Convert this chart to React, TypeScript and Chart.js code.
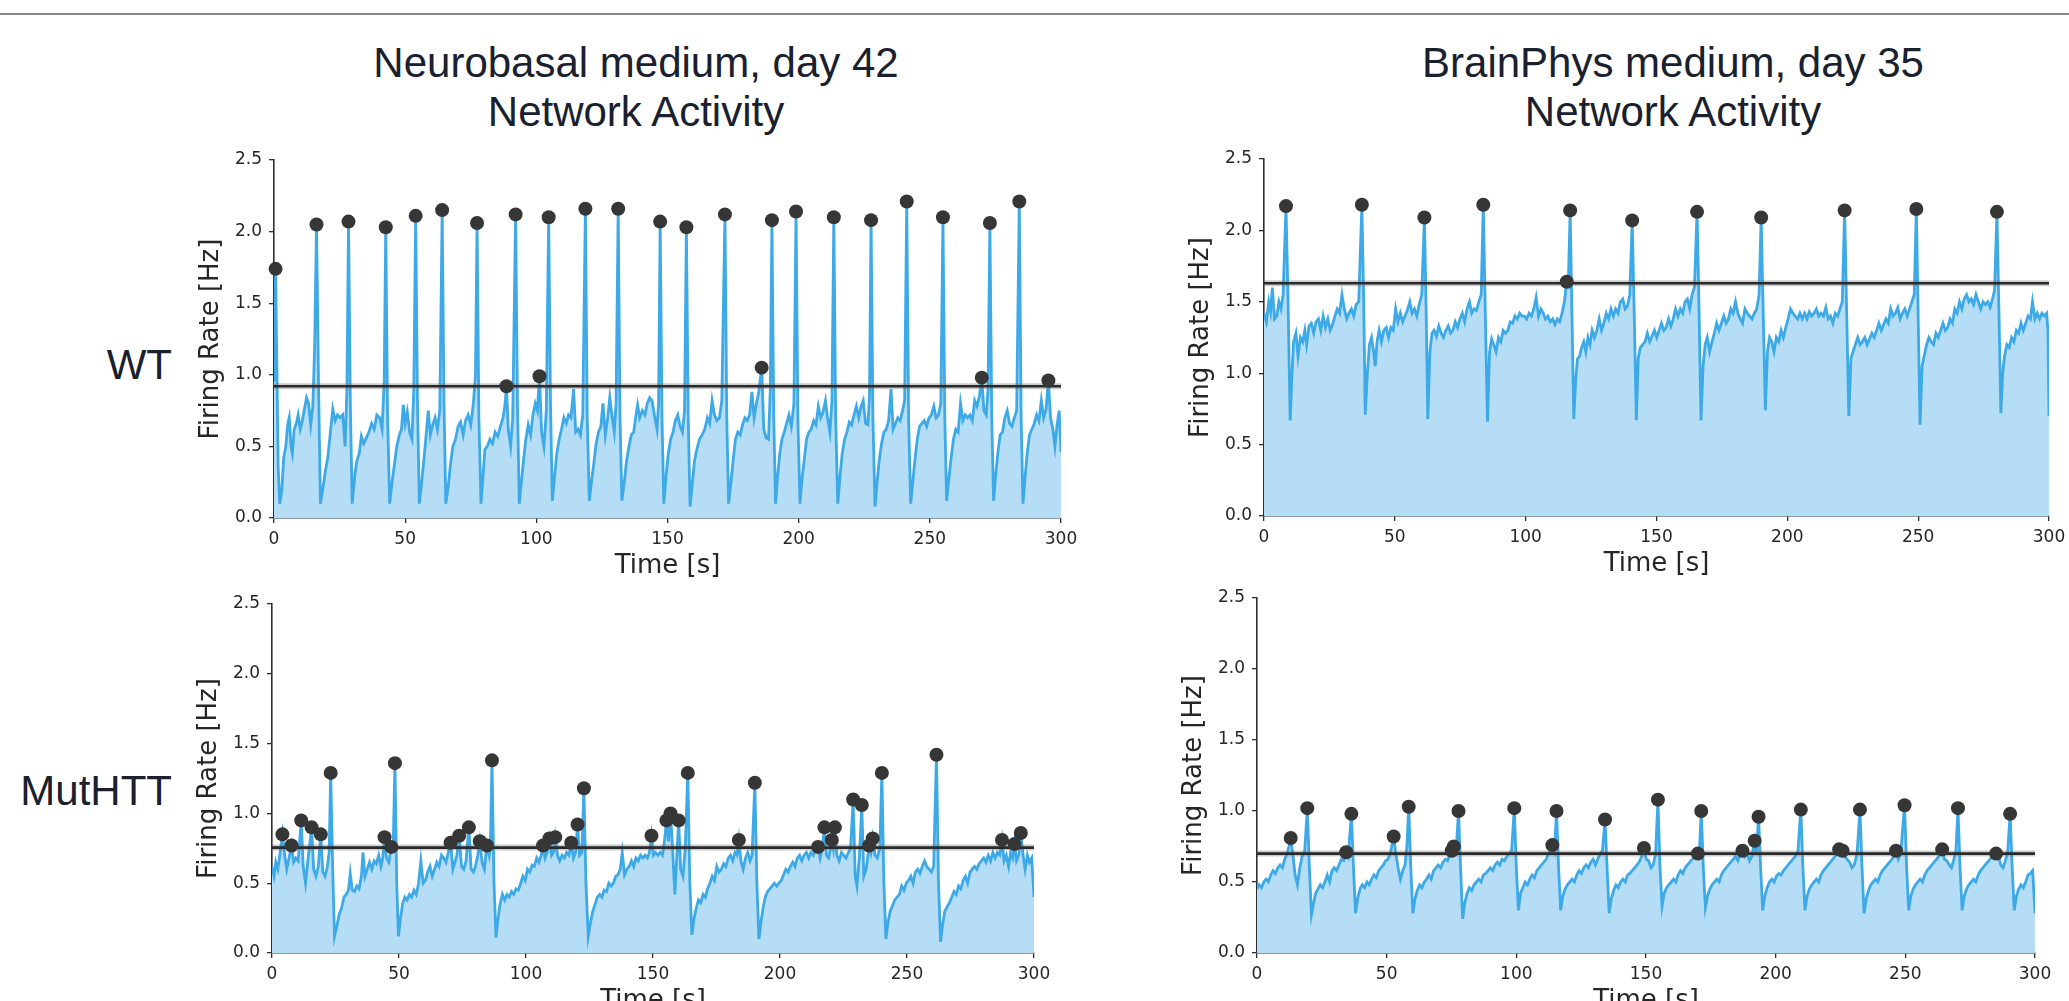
import { useEffect, useRef } from 'react';
import { Chart, registerables } from 'chart.js';

Chart.register(...registerables);

type Pt = [number, number];

// ---------------- data ----------------
const X_TICKS = [0, 50, 100, 150, 200, 250, 300];
const Y_TICKS = [0, 0.5, 1.0, 1.5, 2.0, 2.5];

const COLUMN_TITLES = [
  ['Neurobasal medium, day 42', 'Network Activity'],
  ['BrainPhys medium, day 35', 'Network Activity'],
];
const ROW_LABELS = ['WT', 'MutHTT'];

const TL_THRESHOLD = 0.92;
const TL_PEAKS: Pt[] = [[0.6,1.74],[16.2,2.05],[28.4,2.07],[42.6,2.03],[54,2.11],[64.1,2.15],[77.4,2.06],[88.6,0.92],[92.1,2.12],[101.2,0.99],[104.7,2.1],[118.7,2.16],[131.2,2.16],[147.2,2.07],[157.2,2.03],[171.9,2.12],[185.9,1.05],[189.8,2.08],[199,2.14],[213.4,2.1],[227.6,2.08],[241.2,2.21],[255,2.1],[269.8,0.98],[272.9,2.06],[284.1,2.21],[295.2,0.96]];
const TL_TRACE: Pt[] = [
[0,0.95],[0.6,1.74],[1.6,0.35],[2.2,0.1],[3,0.2],[3.7,0.42],[4.5,0.5],[5.2,0.65],[5.8,0.7],[6.5,0.5],[7,0.45],[7.7,0.62],[8.5,0.66],[9.2,0.72],[10,0.62],[10.8,0.68],[11.5,0.75],[12.4,0.84],[13.2,0.8],[14,0.65],[14.8,0.78],[15.5,1.2],[16.2,2.05],[17,0.9],[17.7,0.1],
[18.6,0.2],[19.5,0.32],[20.5,0.42],[21.5,0.6],[22.4,0.76],[23.3,0.68],[24.2,0.72],[25.2,0.7],[26.2,0.72],[27.1,0.5],[27.8,0.9],[28.4,2.07],[29.1,0.8],[29.8,0.1],
[30.8,0.3],[31.6,0.4],[32.5,0.45],[33.3,0.57],[34.2,0.52],[35.2,0.56],[36.2,0.6],[37.2,0.66],[38.2,0.62],[39.2,0.72],[40.3,0.7],[41.2,0.62],[42,0.95],[42.6,2.03],[43.3,0.7],[44.1,0.1],
[45,0.25],[45.8,0.36],[46.8,0.5],[47.8,0.58],[48.6,0.62],[49.3,0.79],[50,0.66],[50.8,0.74],[51.7,0.6],[52.6,0.55],[53.3,0.9],[54,2.11],[54.7,0.8],[55.4,0.1],
[56.3,0.25],[57.2,0.42],[58,0.58],[58.8,0.75],[59.6,0.58],[60.5,0.65],[61.4,0.7],[62.3,0.62],[63.2,0.75],[64.1,2.15],[64.8,0.8],[65.5,0.1],
[66.4,0.22],[67.3,0.38],[68.2,0.5],[69.2,0.55],[70.2,0.64],[71.1,0.67],[72.1,0.58],[73,0.68],[74,0.72],[75,0.65],[76,0.8],[76.8,1.0],[77.4,2.06],[78.1,0.7],[78.9,0.1],
[79.7,0.3],[80.4,0.48],[81.3,0.5],[82.3,0.55],[83.3,0.52],[84.3,0.6],[85.3,0.57],[86.3,0.64],[87.3,0.7],[88,0.78],[88.6,0.92],[89.3,0.62],[90.2,0.5],[91,0.7],[92.1,2.12],[92.8,0.8],[93.5,0.1],
[94.3,0.25],[95.1,0.4],[96,0.55],[96.9,0.65],[97.8,0.58],[98.7,0.72],[99.6,0.8],[100.4,0.75],[101.2,0.99],[102,0.6],[102.9,0.5],[103.8,0.75],[104.7,2.1],[105.4,0.8],[106.1,0.12],
[107,0.3],[107.8,0.45],[108.7,0.55],[109.6,0.62],[110.5,0.7],[111.4,0.66],[112.3,0.72],[113.2,0.7],[114.2,0.9],[115,0.6],[115.9,0.62],[116.8,0.58],[117.7,0.72],[118.7,2.16],[119.4,0.7],[120.2,0.12],
[121,0.25],[121.9,0.38],[122.8,0.52],[123.7,0.6],[124.6,0.64],[125.4,0.8],[126.3,0.58],[127.2,0.7],[128,0.84],[128.8,0.72],[129.7,0.6],[130.4,0.8],[131.2,2.16],[131.9,0.7],[132.6,0.12],
[133.5,0.25],[134.4,0.4],[135.3,0.5],[136.2,0.58],[137.1,0.6],[138,0.72],[138.6,0.79],[139.4,0.7],[140.4,0.75],[141.4,0.72],[142.3,0.8],[143.2,0.84],[144.1,0.82],[145,0.72],[146,0.62],[146.6,0.8],[147.2,2.07],[147.9,0.7],[148.6,0.1],
[149.5,0.3],[150.3,0.45],[151.2,0.55],[152.1,0.6],[153,0.68],[153.9,0.72],[154.8,0.64],[155.7,0.6],[156.5,0.75],[157.2,2.03],[157.9,0.7],[158.6,0.08],
[159.5,0.25],[160.3,0.4],[161.2,0.48],[162.2,0.55],[163.2,0.58],[164.2,0.62],[165.2,0.7],[166.1,0.66],[167,0.82],[167.9,0.72],[168.8,0.68],[169.8,0.7],[170.7,0.82],[171.9,2.12],[172.6,0.7],[173.3,0.1],
[174.2,0.25],[175,0.4],[175.9,0.55],[176.8,0.6],[177.7,0.58],[178.6,0.65],[179.5,0.7],[180.4,0.68],[181.3,0.72],[182.2,0.88],[183,0.7],[183.9,0.8],[184.8,0.88],[185.9,1.05],[186.7,0.62],[187.6,0.56],[188.5,0.55],[189.2,0.9],[189.8,2.08],[190.5,0.7],[191.2,0.1],
[192,0.3],[192.8,0.45],[193.6,0.55],[194.5,0.6],[195.4,0.66],[196.3,0.72],[197.2,0.64],[198.2,0.8],[199,2.14],[199.7,0.7],[200.5,0.1],
[201.3,0.28],[202.1,0.4],[203,0.55],[203.9,0.6],[204.8,0.62],[205.7,0.68],[206.6,0.65],[207.5,0.78],[208.4,0.7],[209.3,0.74],[210.2,0.82],[211,0.7],[211.9,0.6],[212.7,0.82],[213.4,2.1],[214.1,0.7],[214.9,0.1],
[215.8,0.3],[216.6,0.45],[217.5,0.55],[218.4,0.6],[219.3,0.67],[220.2,0.65],[221.1,0.72],[222,0.78],[222.9,0.7],[223.8,0.78],[224.6,0.82],[225.5,0.66],[226.4,0.65],[227,0.85],[227.6,2.08],[228.3,0.7],[229.1,0.08],
[229.9,0.25],[230.7,0.4],[231.6,0.52],[232.5,0.6],[233.4,0.62],[234.3,0.68],[235.2,0.9],[236,0.62],[236.9,0.66],[237.8,0.7],[238.7,0.68],[239.6,0.75],[240.4,0.82],[241.2,2.21],[241.9,0.7],[242.7,0.1],
[243.5,0.25],[244.3,0.4],[245.2,0.55],[246.1,0.64],[247,0.66],[247.9,0.68],[248.8,0.64],[249.7,0.7],[250.6,0.72],[251.5,0.78],[252.4,0.7],[253.3,0.72],[254.2,0.8],[255,2.1],[255.7,0.7],[256.4,0.12],
[257.3,0.28],[258.1,0.42],[259,0.55],[259.9,0.62],[260.8,0.6],[261.7,0.8],[262.6,0.68],[263.5,0.72],[264.4,0.7],[265.3,0.72],[266.2,0.68],[267.1,0.82],[268,0.78],[268.9,0.85],[269.8,0.98],[270.6,0.75],[271.5,0.72],[272.2,0.9],[272.9,2.06],[273.6,0.7],[274.3,0.12],
[275.1,0.3],[275.9,0.45],[276.8,0.58],[277.7,0.6],[278.6,0.7],[279.5,0.75],[280.4,0.66],[281.3,0.64],[282.2,0.7],[283.1,0.75],[284.1,2.21],[284.8,0.7],[285.5,0.1],
[286.3,0.28],[287.1,0.45],[288,0.58],[288.9,0.62],[289.8,0.66],[290.7,0.72],[291.6,0.68],[292.5,0.82],[293.4,0.7],[294.3,0.76],[295.2,0.96],[296,0.7],[296.9,0.62],[297.7,0.5],[298.5,0.65],[299.3,0.75],[300,0.46]
];

const TR_THRESHOLD = 1.63;
const TR_PEAKS: Pt[] = [[8.4,2.17],[37.4,2.18],[61.3,2.09],[83.8,2.18],[115.7,1.64],[117,2.14],[140.7,2.07],[165.5,2.13],[190,2.09],[221.9,2.14],[249.3,2.15],[280.1,2.13]];
const TR_TRACE: Pt[] = [
[0,1.42],[0.9,1.36],[1.8,1.5],[2.5,1.43],[3.2,1.6],[4,1.38],[4.9,1.4],[5.7,1.5],[6.5,1.45],[7.3,1.55],[8.4,2.17],[9.2,1.5],[10,0.67],[10.7,1.0],[11.3,1.22],[12.2,1.28],[13,1.12],[13.9,1.25],[14.8,1.22],[15.6,1.3],[16.3,1.2],[17.2,1.33],[18.1,1.35],[19,1.28],[19.9,1.36],[20.8,1.38],[21.7,1.3],[22.6,1.4],[23.5,1.32],[24.4,1.38],[25.3,1.3],[26.2,1.34],[27.1,1.4],[28,1.45],[28.9,1.42],[29.8,1.55],[30.7,1.45],[31.6,1.38],[32.5,1.42],[33.4,1.45],[34.3,1.4],[35.2,1.48],[36.2,1.5],[37.4,2.18],[38.1,1.5],[38.7,0.71],
[39.5,1.0],[40.3,1.2],[41.1,1.25],[41.9,1.15],[42.5,1.05],[43.2,1.22],[44,1.3],[44.9,1.22],[45.8,1.3],[46.7,1.32],[47.6,1.25],[48.5,1.32],[49.4,1.3],[50.3,1.45],[51.2,1.36],[52.1,1.42],[53,1.36],[53.9,1.4],[54.8,1.44],[55.7,1.5],[56.6,1.42],[57.5,1.45],[58.4,1.4],[59.3,1.48],[60.3,1.55],[61.3,2.09],[62,1.4],[62.6,0.68],
[63.4,1.15],[64.2,1.28],[65,1.3],[65.9,1.26],[66.8,1.33],[67.7,1.28],[68.6,1.25],[69.5,1.3],[70.4,1.33],[71.3,1.28],[72.2,1.3],[73.1,1.36],[74,1.32],[74.9,1.38],[75.8,1.42],[76.7,1.36],[77.6,1.45],[78.5,1.5],[79.4,1.42],[80.3,1.45],[81.2,1.44],[82.1,1.5],[83,1.55],[83.8,2.18],[84.6,1.4],[85.4,0.66],
[86.2,1.15],[87,1.24],[87.8,1.2],[88.7,1.15],[89.6,1.25],[90.5,1.22],[91.4,1.3],[92.3,1.28],[93.2,1.3],[94.1,1.36],[95,1.35],[95.9,1.4],[96.8,1.38],[97.7,1.42],[98.6,1.4],[99.5,1.4],[100.4,1.38],[101.3,1.42],[102.2,1.4],[103.1,1.45],[104,1.53],[104.9,1.4],[105.8,1.45],[106.7,1.42],[107.6,1.38],[108.5,1.4],[109.4,1.36],[110.3,1.38],[111.2,1.34],[112.1,1.38],[113,1.36],[113.9,1.42],[114.8,1.5],[115.7,1.64],[116.3,1.62],[117,2.14],[117.7,1.4],[118.4,0.68],
[119.1,0.95],[119.8,1.1],[120.6,1.12],[121.4,1.18],[122.2,1.22],[123,1.15],[123.8,1.25],[124.6,1.2],[125.4,1.3],[126.3,1.25],[127.2,1.3],[128.1,1.38],[129,1.3],[129.9,1.35],[130.8,1.42],[131.7,1.38],[132.6,1.45],[133.5,1.4],[134.4,1.45],[135.3,1.42],[136.2,1.5],[137.1,1.52],[138,1.45],[138.9,1.47],[139.8,1.55],[140.7,2.07],[141.5,1.4],[142.3,0.67],
[143,1.1],[143.8,1.18],[144.7,1.2],[145.6,1.22],[146.5,1.28],[147.4,1.22],[148.3,1.26],[149.2,1.3],[150.1,1.25],[151,1.3],[151.9,1.35],[152.8,1.3],[153.7,1.32],[154.6,1.38],[155.5,1.33],[156.4,1.38],[157.3,1.45],[158.2,1.4],[159.1,1.45],[160,1.42],[160.9,1.5],[161.8,1.52],[162.7,1.45],[163.6,1.55],[164.5,1.6],[165.5,2.13],[166.3,1.4],[167,0.67],
[167.8,1.05],[168.6,1.2],[169.4,1.25],[170.3,1.15],[171.2,1.22],[172.1,1.28],[173,1.35],[173.9,1.3],[174.8,1.35],[175.7,1.4],[176.6,1.35],[177.5,1.38],[178.4,1.45],[179.3,1.42],[180.2,1.5],[181.1,1.42],[182,1.38],[182.9,1.35],[183.8,1.45],[184.7,1.42],[185.6,1.4],[186.5,1.38],[187.4,1.42],[188.3,1.45],[189.2,1.55],[190,2.09],[190.8,1.4],[191.6,0.74],
[192.4,1.15],[193.2,1.25],[194,1.22],[194.9,1.15],[195.8,1.25],[196.7,1.22],[197.6,1.3],[198.5,1.25],[199.4,1.32],[200.3,1.38],[201.2,1.45],[202.1,1.42],[203,1.4],[203.9,1.38],[204.8,1.42],[205.7,1.38],[206.6,1.42],[207.5,1.38],[208.4,1.43],[209.3,1.4],[210.2,1.42],[211.1,1.45],[212,1.4],[212.9,1.42],[213.8,1.4],[214.7,1.46],[215.6,1.38],[216.5,1.4],[217.4,1.35],[218.3,1.42],[219.2,1.4],[220.1,1.45],[221,1.5],[221.9,2.14],[222.7,1.4],[223.5,0.7],
[224.3,1.1],[225.1,1.15],[226,1.2],[226.9,1.25],[227.8,1.2],[228.7,1.22],[229.6,1.25],[230.5,1.2],[231.4,1.24],[232.3,1.28],[233.2,1.25],[234.1,1.3],[235,1.35],[235.9,1.3],[236.8,1.34],[237.7,1.38],[238.6,1.35],[239.5,1.45],[240.4,1.4],[241.3,1.42],[242.2,1.46],[243.1,1.38],[244,1.42],[244.9,1.45],[245.8,1.4],[246.7,1.45],[247.6,1.5],[248.5,1.55],[249.3,2.15],[250,1.4],[250.7,0.64],
[251.5,1.05],[252.3,1.12],[253.2,1.2],[254.1,1.25],[255,1.22],[255.9,1.2],[256.8,1.28],[257.7,1.25],[258.6,1.3],[259.5,1.35],[260.4,1.3],[261.3,1.32],[262.2,1.38],[263.1,1.35],[264,1.45],[264.9,1.42],[265.8,1.5],[266.7,1.45],[267.6,1.52],[268.5,1.55],[269.4,1.5],[270.3,1.52],[271.2,1.48],[272.1,1.55],[273,1.5],[273.9,1.45],[274.8,1.5],[275.7,1.48],[276.6,1.5],[277.5,1.46],[278.4,1.52],[279.2,1.58],[280.1,2.13],[280.9,1.4],[281.6,0.72],
[282.3,1.0],[283,1.12],[283.9,1.2],[284.8,1.18],[285.7,1.25],[286.6,1.22],[287.5,1.3],[288.4,1.28],[289.3,1.35],[290.2,1.3],[291.1,1.35],[292,1.4],[292.9,1.38],[293.7,1.5],[294.6,1.38],[295.5,1.42],[296.4,1.38],[297.3,1.42],[298.2,1.4],[299.1,1.42],[299.6,1.3],[300,0.7]
];

const BL_THRESHOLD = 0.755;
const BL_PEAKS: Pt[] = [[4.1,0.85],[7.7,0.77],[11.5,0.95],[15.6,0.9],[19.2,0.85],[23.1,1.29],[44.3,0.83],[47,0.76],[48.4,1.36],[70.3,0.79],[73.7,0.84],[77.5,0.9],[81.8,0.8],[84.6,0.77],[86.6,1.38],[106.7,0.77],[109.2,0.82],[111.5,0.83],[117.8,0.79],[120.3,0.92],[122.8,1.18],[149.4,0.84],[155.3,0.95],[156.9,1.0],[160.1,0.95],[163.7,1.29],[183.8,0.81],[190.1,1.22],[215,0.76],[217.5,0.9],[220.4,0.81],[221.6,0.9],[228.8,1.1],[232.2,1.06],[235.1,0.77],[236.5,0.82],[240.1,1.29],[261.6,1.42],[287.4,0.81],[292.3,0.78],[294.8,0.86]];
const BL_TRACE: Pt[] = [
[0,0.62],[0.8,0.55],[1.5,0.65],[2.3,0.6],[3.2,0.72],[4.1,0.85],[5,0.7],[5.8,0.6],[6.7,0.68],[7.7,0.77],[8.5,0.65],[9.4,0.68],[10.3,0.66],[11.5,0.95],[12.3,0.62],[13.2,0.5],[14.1,0.66],[15.6,0.9],[16.4,0.6],[17.3,0.55],[18.2,0.62],[19.2,0.85],[20,0.58],[20.9,0.55],[21.8,0.62],[22.5,0.72],[23.1,1.29],[23.9,0.6],[24.6,0.12],
[25.6,0.2],[26.5,0.28],[27.4,0.32],[28.3,0.4],[29.2,0.42],[30.1,0.45],[30.8,0.57],[31.6,0.45],[32.5,0.44],[33.4,0.48],[34.3,0.46],[35.2,0.55],[35.8,0.72],[36.6,0.55],[37.5,0.6],[38.4,0.65],[39.3,0.6],[40.2,0.66],[41.1,0.64],[42,0.7],[42.9,0.62],[43.6,0.68],[44.3,0.83],[45.1,0.68],[46,0.65],[47,0.76],[47.7,0.75],[48.4,1.36],[49.1,0.5],[49.8,0.12],
[50.6,0.25],[51.4,0.35],[52.3,0.4],[53.2,0.38],[54.1,0.42],[55,0.4],[55.9,0.45],[56.8,0.42],[57.7,0.5],[58.6,0.66],[59.5,0.5],[60.4,0.52],[61.3,0.58],[62.2,0.62],[63.1,0.55],[64,0.6],[64.9,0.65],[65.8,0.62],[66.7,0.7],[67.6,0.68],[68.5,0.65],[69.4,0.72],[70.3,0.79],
[71.2,0.6],[72,0.65],[72.8,0.7],[73.7,0.84],[74.6,0.62],[75.5,0.6],[76.4,0.66],[77.5,0.9],[78.4,0.6],[79.3,0.58],[80.1,0.62],[81,0.7],[81.8,0.8],[82.7,0.65],[83.6,0.6],[84.6,0.77],[85.5,0.7],[86,0.78],[86.6,1.38],[87.4,0.5],[88.2,0.11],
[89,0.25],[89.8,0.35],[90.7,0.42],[91.6,0.38],[92.5,0.42],[93.4,0.4],[94.3,0.44],[95.2,0.42],[96.1,0.46],[97,0.45],[97.9,0.5],[98.8,0.55],[99.7,0.52],[100.6,0.6],[101.5,0.58],[102.4,0.63],[103.3,0.62],[104.2,0.68],[105.1,0.65],[106,0.7],[106.7,0.77],
[107.5,0.68],[108.3,0.72],[109.2,0.82],[110.1,0.7],[110.8,0.72],[111.5,0.83],[112.4,0.7],[113.3,0.66],[114.2,0.7],[115.1,0.68],[116,0.72],[116.9,0.7],[117.8,0.79],[118.7,0.68],[119.5,0.72],[120.3,0.92],[121.1,0.7],[122,0.72],[122.8,1.18],[123.6,0.5],[124.5,0.12],
[125.4,0.22],[126.3,0.3],[127.2,0.35],[128.1,0.4],[129,0.42],[129.9,0.4],[130.8,0.45],[131.7,0.44],[132.6,0.5],[133.5,0.48],[134.4,0.5],[135.3,0.55],[136.2,0.56],[137.1,0.6],[137.9,0.72],[138.8,0.56],[139.7,0.6],[140.6,0.62],[141.5,0.66],[142.4,0.62],[143.3,0.68],[144.2,0.66],[145.1,0.7],[146,0.68],[146.9,0.7],[147.8,0.68],[148.6,0.72],[149.4,0.84],
[150.2,0.7],[151,0.72],[151.9,0.7],[152.8,0.72],[153.7,0.7],[154.5,0.8],[155.3,0.95],[156.1,0.8],[156.9,1.0],[157.7,0.75],[158.6,0.42],[159.4,0.7],[160.1,0.95],[160.9,0.6],[161.8,0.55],[162.7,0.75],[163.7,1.29],[164.5,0.5],[165.3,0.13],
[166.2,0.25],[167,0.32],[167.9,0.38],[168.8,0.36],[169.7,0.42],[170.6,0.4],[171.5,0.46],[172.4,0.5],[173.3,0.55],[174.2,0.52],[175.1,0.62],[176,0.58],[176.9,0.6],[177.8,0.64],[178.7,0.62],[179.6,0.68],[180.5,0.7],[181.4,0.66],[182.3,0.72],[183.1,0.7],[183.8,0.81],
[184.6,0.66],[185.5,0.6],[186.4,0.68],[187.3,0.72],[188.2,0.66],[189,0.7],[190.1,1.22],[190.9,0.5],[191.7,0.1],
[192.5,0.22],[193.3,0.32],[194.2,0.4],[195.1,0.44],[196,0.46],[196.9,0.48],[197.8,0.5],[198.7,0.48],[199.6,0.5],[200.5,0.52],[201.4,0.56],[202.3,0.6],[203.2,0.58],[204.1,0.62],[205,0.65],[205.9,0.62],[206.8,0.68],[207.7,0.7],[208.6,0.66],[209.5,0.7],[210.4,0.72],[211.3,0.68],[212.2,0.72],[213.1,0.7],[214,0.74],[215,0.76],
[215.8,0.68],[216.6,0.75],[217.5,0.9],[218.3,0.7],[219.2,0.68],[220.4,0.81],[221,0.75],[221.6,0.9],[222.4,0.7],[223.3,0.66],[224.2,0.72],[225.1,0.7],[226,0.68],[226.9,0.72],[227.8,0.75],[228.8,1.1],[229.6,0.55],[230.3,0.48],[231.3,0.7],[232.2,1.06],[233,0.55],[233.9,0.6],[234.5,0.68],[235.1,0.77],[235.8,0.72],[236.5,0.82],[237.4,0.7],[238.3,0.68],[239.3,0.75],[240.1,1.29],[240.9,0.5],[241.7,0.1],
[242.5,0.22],[243.4,0.3],[244.3,0.34],[245.2,0.38],[246.1,0.4],[247,0.42],[247.9,0.48],[248.8,0.45],[249.7,0.5],[250.6,0.52],[251.5,0.55],[252.4,0.5],[253.3,0.58],[254.2,0.6],[255.1,0.57],[256,0.62],[256.9,0.66],[257.8,0.62],[258.7,0.6],[259.6,0.58],[260.5,0.62],[261.6,1.42],[262.4,0.5],[263.2,0.08],
[264,0.2],[264.9,0.3],[265.8,0.33],[266.7,0.36],[267.6,0.4],[268.5,0.44],[269.4,0.42],[270.3,0.48],[271.2,0.46],[272.1,0.52],[273,0.55],[273.9,0.5],[274.8,0.58],[275.7,0.6],[276.6,0.62],[277.5,0.6],[278.4,0.64],[279.3,0.66],[280.2,0.68],[281.1,0.65],[282,0.7],[282.9,0.66],[283.8,0.72],[284.7,0.68],[285.6,0.72],[286.5,0.7],[287.4,0.81],
[288.2,0.66],[289.1,0.7],[290,0.62],[290.8,0.72],[291.6,0.68],[292.3,0.78],[293.1,0.66],[294,0.7],[294.8,0.86],[295.7,0.7],[296.5,0.6],[297.4,0.7],[298.2,0.65],[299.1,0.68],[300,0.4]
];

const BR_THRESHOLD = 0.70;
const BR_PEAKS: Pt[] = [[13,0.81],[19.4,1.02],[34.4,0.71],[36.4,0.98],[52.7,0.82],[58.5,1.03],[75.1,0.72],[75.9,0.75],[77.7,1.0],[99.2,1.02],[113.9,0.76],[115.5,1.0],[134.2,0.94],[149.2,0.74],[154.6,1.08],[170,0.7],[171.3,1.0],[187.2,0.72],[191.9,0.79],[193.4,0.96],[209.7,1.01],[224.5,0.73],[225.8,0.72],[232.5,1.01],[246.4,0.72],[249.7,1.04],[264.2,0.73],[270.3,1.02],[285,0.7],[290.4,0.98]];
const BR_TRACE: Pt[] = [
[0,0.45],[0.8,0.48],[1.7,0.46],[2.6,0.5],[3.5,0.52],[4.4,0.5],[5.3,0.55],[6.2,0.58],[7.1,0.56],[8,0.6],[8.9,0.62],[9.8,0.6],[10.7,0.66],[11.6,0.7],[12.3,0.75],[13,0.81],[13.8,0.7],[14.7,0.55],[15.6,0.48],[16.5,0.6],[17.4,0.68],[18.4,0.72],[19.4,1.02],[20.2,0.6],[21,0.27],
[21.8,0.35],[22.6,0.42],[23.5,0.45],[24.4,0.48],[25.3,0.46],[26.2,0.5],[27.1,0.55],[28,0.5],[28.9,0.58],[29.8,0.6],[30.7,0.58],[31.6,0.62],[32.5,0.66],[33.4,0.65],[34.4,0.71],[35.2,0.68],[36.4,0.98],[37.2,0.6],[38,0.28],
[38.8,0.38],[39.7,0.45],[40.6,0.48],[41.5,0.46],[42.4,0.5],[43.3,0.48],[44.2,0.52],[45.1,0.55],[46,0.53],[46.9,0.58],[47.8,0.6],[48.7,0.62],[49.6,0.65],[50.5,0.66],[51.4,0.7],[52.7,0.82],[53.5,0.7],[54.4,0.6],[55.3,0.52],[56.2,0.58],[57.1,0.62],[57.8,0.75],[58.5,1.03],[59.3,0.6],[60.1,0.28],
[60.9,0.38],[61.8,0.44],[62.7,0.48],[63.6,0.46],[64.5,0.5],[65.4,0.52],[66.3,0.55],[67.2,0.52],[68.1,0.58],[69,0.6],[69.9,0.62],[70.8,0.6],[71.7,0.64],[72.6,0.66],[73.5,0.65],[74.4,0.7],[75.1,0.72],[75.9,0.75],[76.8,0.72],[77.7,1.0],[78.5,0.6],[79.3,0.24],
[80.1,0.35],[81,0.42],[81.9,0.46],[82.8,0.44],[83.7,0.48],[84.6,0.5],[85.5,0.52],[86.4,0.5],[87.3,0.55],[88.2,0.56],[89.1,0.58],[90,0.6],[90.9,0.58],[91.8,0.62],[92.7,0.64],[93.6,0.62],[94.5,0.66],[95.4,0.65],[96.3,0.68],[97.2,0.7],[98.2,0.72],[99.2,1.02],[100,0.6],[100.8,0.3],
[101.6,0.42],[102.5,0.46],[103.4,0.5],[104.3,0.48],[105.2,0.52],[106.1,0.55],[107,0.53],[107.9,0.58],[108.8,0.6],[109.7,0.62],[110.6,0.64],[111.5,0.66],[112.4,0.7],[113.2,0.72],[113.9,0.76],[114.7,0.72],[115.5,1.0],[116.3,0.6],[117.1,0.3],
[117.9,0.4],[118.8,0.45],[119.7,0.48],[120.6,0.5],[121.5,0.52],[122.4,0.5],[123.3,0.55],[124.2,0.58],[125.1,0.56],[126,0.6],[126.9,0.62],[127.8,0.6],[128.7,0.64],[129.6,0.66],[130.5,0.62],[131.4,0.66],[132.3,0.7],[133.2,0.72],[134.2,0.94],[135,0.6],[135.8,0.28],
[136.6,0.38],[137.5,0.44],[138.4,0.48],[139.3,0.46],[140.2,0.5],[141.1,0.52],[142,0.5],[142.9,0.55],[143.8,0.56],[144.7,0.58],[145.6,0.6],[146.5,0.62],[147.4,0.64],[148.3,0.68],[149.2,0.74],[150.1,0.66],[151,0.65],[151.9,0.6],[152.8,0.62],[153.7,0.7],[154.6,1.08],[155.4,0.6],[156.2,0.33],
[157,0.42],[157.9,0.46],[158.8,0.48],[159.7,0.5],[160.6,0.52],[161.5,0.5],[162.4,0.55],[163.3,0.58],[164.2,0.56],[165.1,0.6],[166,0.62],[166.9,0.64],[167.8,0.66],[168.7,0.68],[169.4,0.7],[170,0.7],[170.6,0.72],[171.3,1.0],[172.1,0.6],[172.9,0.32],
[173.7,0.4],[174.6,0.45],[175.5,0.48],[176.4,0.5],[177.3,0.52],[178.2,0.5],[179.1,0.55],[180,0.58],[180.9,0.6],[181.8,0.62],[182.7,0.64],[183.6,0.66],[184.5,0.68],[185.4,0.65],[186.3,0.7],[187.2,0.72],[188.1,0.68],[189,0.7],[189.9,0.65],[190.8,0.68],[191.9,0.79],[192.6,0.7],[193.4,0.96],[194.2,0.6],[195,0.3],
[195.8,0.4],[196.7,0.46],[197.6,0.5],[198.5,0.52],[199.4,0.5],[200.3,0.54],[201.2,0.56],[202.1,0.55],[203,0.58],[203.9,0.6],[204.8,0.62],[205.7,0.64],[206.6,0.66],[207.5,0.68],[208.6,0.72],[209.7,1.01],[210.5,0.6],[211.3,0.3],
[212.1,0.4],[213,0.45],[213.9,0.48],[214.8,0.5],[215.7,0.52],[216.6,0.5],[217.5,0.55],[218.4,0.58],[219.3,0.6],[220.2,0.62],[221.1,0.64],[222,0.66],[222.9,0.68],[223.8,0.7],[224.5,0.73],[225.2,0.7],[225.8,0.72],[226.7,0.68],[227.6,0.66],[228.5,0.64],[229.4,0.6],[230.3,0.62],[231.4,0.7],[232.5,1.01],[233.3,0.6],[234.1,0.28],
[234.9,0.38],[235.8,0.44],[236.7,0.48],[237.6,0.5],[238.5,0.52],[239.4,0.5],[240.3,0.55],[241.2,0.58],[242.1,0.6],[243,0.62],[243.9,0.64],[244.8,0.66],[245.6,0.68],[246.4,0.72],[247.3,0.66],[248.2,0.7],[249.7,1.04],[250.5,0.6],[251.3,0.3],
[252.1,0.4],[253,0.45],[253.9,0.48],[254.8,0.5],[255.7,0.52],[256.6,0.5],[257.5,0.55],[258.4,0.58],[259.3,0.6],[260.2,0.62],[261.1,0.64],[262,0.66],[262.9,0.68],[263.6,0.7],[264.2,0.73],[265.1,0.66],[266,0.65],[266.9,0.62],[267.8,0.6],[268.7,0.66],[269.5,0.72],[270.3,1.02],[271.1,0.6],[271.9,0.3],
[272.7,0.4],[273.6,0.45],[274.5,0.48],[275.4,0.5],[276.3,0.52],[277.2,0.5],[278.1,0.55],[279,0.58],[279.9,0.6],[280.8,0.62],[281.7,0.64],[282.6,0.66],[283.5,0.68],[284.3,0.7],[285,0.7],[285.9,0.68],[286.8,0.62],[287.7,0.6],[288.6,0.65],[289.5,0.72],[290.4,0.98],[291.2,0.6],[292,0.3],
[292.8,0.4],[293.7,0.45],[294.6,0.48],[295.5,0.46],[296.4,0.5],[297.3,0.55],[298.2,0.56],[299.1,0.58],[300,0.28]
];

// ---------------- layout & style ----------------
const Y_AXIS_W = 78;
const X_AXIS_H = 64;
const PAD_TOP = 22;
const PAD_RIGHT = 30;

const PANEL_BOXES = [
  { left: 274, right: 1061, top: 160, bottom: 518 },
  { left: 1264, right: 2049, top: 159, bottom: 516 },
  { left: 272, right: 1034, top: 604, bottom: 953 },
  { left: 1257, right: 2035, top: 598, bottom: 953 },
];

const LINE_COLOR = '#3ea9e7';
const FILL_COLOR = '#b5ddf6';
const MARKER_COLOR = '#363636';
const AXIS_COLOR = '#2e2e2e';
const TEXT_COLOR = '#262626';
const TITLE_COLOR = '#19202e';
const MPL_FONT = 'DejaVu Sans';
const SLIDE_FONT = '"Liberation Sans", Arial, sans-serif';

type PanelProps = {
  trace: Pt[];
  peaks: Pt[];
  threshold: number;
  box: { left: number; right: number; top: number; bottom: number };
};

function Panel({ trace, peaks, threshold, box }: PanelProps) {
  const ref = useRef<HTMLCanvasElement | null>(null);
  const left = box.left - Y_AXIS_W;
  const top = box.top - PAD_TOP;
  const width = box.right + PAD_RIGHT - left;
  const height = box.bottom + X_AXIS_H - top;

  useEffect(() => {
    if (!ref.current) return;
    const toXY = (arr: Pt[]) => arr.map(([x, y]) => ({ x, y }));
    const thrLine = [{ x: X_TICKS[0], y: threshold }, { x: X_TICKS[X_TICKS.length - 1], y: threshold }];
    const tickFont = { family: MPL_FONT, size: 17 };
    const titleFont = { family: MPL_FONT, size: 26 };
    const chart = new Chart(ref.current, {
      type: 'line',
      data: {
        datasets: [
          {
            label: 'peaks',
            data: toXY(peaks),
            showLine: false,
            pointRadius: 7,
            pointHoverRadius: 7,
            pointBackgroundColor: MARKER_COLOR,
            pointBorderWidth: 0,
            order: 0,
            clip: false as any,
          },
          {
            label: 'threshold',
            data: thrLine,
            borderColor: '#2a2a2a',
            borderWidth: 2.6,
            pointRadius: 0,
            order: 1,
          },
          {
            label: 'threshold halo',
            data: thrLine,
            borderColor: 'rgba(110,110,110,0.35)',
            borderWidth: 6,
            pointRadius: 0,
            order: 2,
          },
          {
            label: 'firing rate',
            data: toXY(trace),
            borderColor: LINE_COLOR,
            borderWidth: 2.8,
            backgroundColor: FILL_COLOR,
            fill: 'origin',
            pointRadius: 0,
            tension: 0,
            order: 3,
          },
        ],
      } as any,
      options: {
        animation: false,
        responsive: false,
        maintainAspectRatio: false,
        events: [],
        layout: { padding: { top: PAD_TOP, right: PAD_RIGHT, bottom: 0, left: 0 } },
        plugins: { legend: { display: false }, tooltip: { enabled: false } },
        scales: {
          x: {
            type: 'linear',
            min: X_TICKS[0],
            max: X_TICKS[X_TICKS.length - 1],
            afterBuildTicks: (s: any) => { s.ticks = X_TICKS.map((v) => ({ value: v })); },
            afterFit: (s: any) => { s.height = X_AXIS_H; },
            ticks: { font: tickFont, color: TEXT_COLOR, padding: 6, maxRotation: 0, autoSkip: false },
            grid: { drawOnChartArea: false, drawTicks: true, tickLength: 5, color: AXIS_COLOR, lineWidth: 1.3 },
            border: { display: true, color: AXIS_COLOR, width: 1.6 },
            title: { display: true, text: 'Time [s]', font: titleFont, color: TEXT_COLOR, padding: 0 },
          },
          y: {
            type: 'linear',
            min: Y_TICKS[0],
            max: Y_TICKS[Y_TICKS.length - 1],
            afterBuildTicks: (s: any) => { s.ticks = Y_TICKS.map((v) => ({ value: v })); },
            afterFit: (s: any) => { s.width = Y_AXIS_W; },
            ticks: { font: tickFont, color: TEXT_COLOR, padding: 7, callback: (v: any) => Number(v).toFixed(1) },
            grid: { drawOnChartArea: false, drawTicks: true, tickLength: 5, color: AXIS_COLOR, lineWidth: 1.3 },
            border: { display: true, color: AXIS_COLOR, width: 1.6 },
            title: { display: true, text: 'Firing Rate [Hz]', font: titleFont, color: TEXT_COLOR, padding: 0 },
          },
        },
      } as any,
    });
    return () => chart.destroy();
  }, [trace, peaks, threshold]);

  return (
    <canvas
      ref={ref}
      width={width}
      height={height}
      style={{ position: 'absolute', left, top, width, height }}
    />
  );
}

const PANELS = [
  { trace: TL_TRACE, peaks: TL_PEAKS, threshold: TL_THRESHOLD },
  { trace: TR_TRACE, peaks: TR_PEAKS, threshold: TR_THRESHOLD },
  { trace: BL_TRACE, peaks: BL_PEAKS, threshold: BL_THRESHOLD },
  { trace: BR_TRACE, peaks: BR_PEAKS, threshold: BR_THRESHOLD },
];

const TITLE_CENTERS = [636, 1673];
const ROW_LABEL_TOPS = [341, 767];

export default function App() {
  return (
    <div
      style={{
        position: 'fixed',
        left: 0,
        top: 0,
        width: 2069,
        height: 1001,
        overflow: 'hidden',
        background: '#ffffff',
      }}
    >
      <div style={{ position: 'absolute', left: 0, top: 13, width: 2069, height: 2, background: '#8a8a8a' }} />
      {COLUMN_TITLES.map((lines, i) => (
        <div
          key={'t' + i}
          style={{
            position: 'absolute',
            left: TITLE_CENTERS[i] - 450,
            top: 38,
            width: 900,
            textAlign: 'center',
            fontFamily: SLIDE_FONT,
            fontSize: 42,
            lineHeight: '49px',
            color: TITLE_COLOR,
            whiteSpace: 'nowrap',
          }}
        >
          {lines.map((l, j) => (
            <div key={j}>{l}</div>
          ))}
        </div>
      ))}
      {ROW_LABELS.map((label, i) => (
        <div
          key={'r' + i}
          style={{
            position: 'absolute',
            left: 0,
            width: 172,
            top: ROW_LABEL_TOPS[i],
            textAlign: 'right',
            fontFamily: SLIDE_FONT,
            fontSize: 42,
            lineHeight: '47px',
            color: TITLE_COLOR,
            whiteSpace: 'nowrap',
          }}
        >
          {label}
        </div>
      ))}
      {PANELS.map((p, i) => (
        <Panel key={i} trace={p.trace} peaks={p.peaks} threshold={p.threshold} box={PANEL_BOXES[i]} />
      ))}
    </div>
  );
}
